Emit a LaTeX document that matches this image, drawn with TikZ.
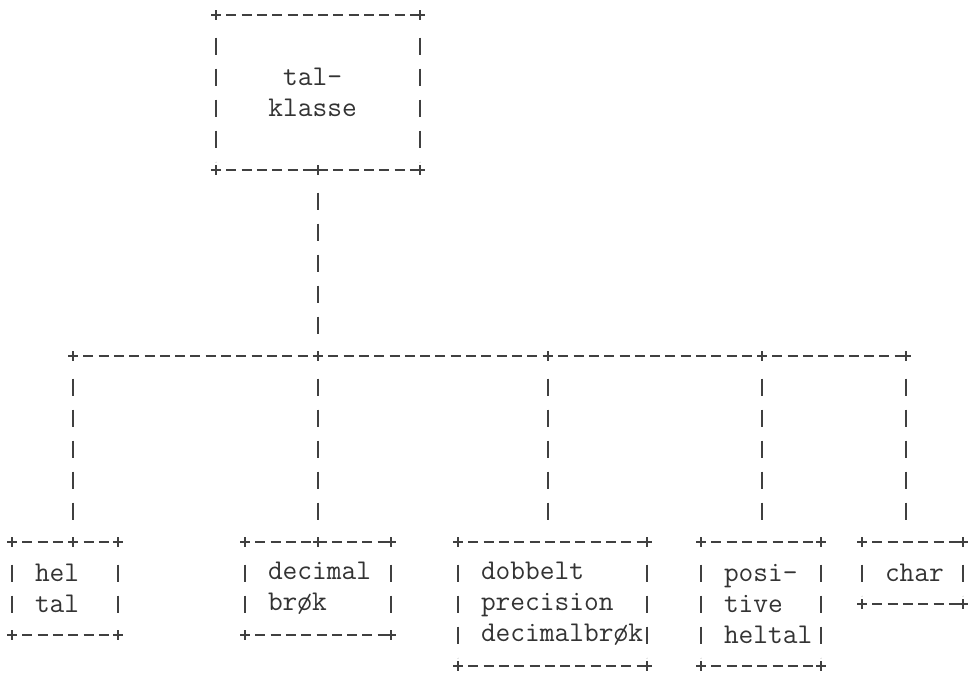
\documentclass[tikz,border=0pt]{standalone}
\usepackage{fontspec}
\usetikzlibrary{positioning}
\tikzset{
  asciifont/.style={font=\ttfamily\fontsize{14.3}{15.5}\selectfont, text=black!80,
    execute at begin node={\hyphenpenalty=10000\relax}},
  hline/.style={draw=black!75, line width=0.55pt, dash pattern=on 5pt off 2.65pt, dash phase=5pt,
    shorten <=2.5pt, shorten >=2.5pt},
  vline/.style={draw=black!75, line width=0.55pt, dash pattern=on 8.5pt off 7pt, dash phase=8.5pt,
    shorten <=4.25pt, shorten >=4.25pt},
  crossmark/.style={draw=black!75, line width=0.55pt},
  typebox/.style={asciifont, anchor=north west, align=left, inner ysep=0pt, inner xsep=11.5pt,
    outer sep=0pt,
    append after command={
      (\tikzlastnode.north west) edge[hline] (\tikzlastnode.north east)
      (\tikzlastnode.south west) edge[hline] (\tikzlastnode.south east)
      (\tikzlastnode.north west) edge[vline] (\tikzlastnode.south west)
      (\tikzlastnode.north east) edge[vline] (\tikzlastnode.south east)}},
}

\begin{document}
\begin{tikzpicture}[x=0.5pt, y=-0.5pt]
  \useasboundingbox (0,0) rectangle (970,675);

  % root
  \node[typebox, minimum width=102pt, minimum height=77.5pt, text width=79pt] (top) at (216,15)
    {\phantom{ttt}tal-\\\phantom{tt}klasse};

  % bus
  \coordinate (j1) at (73,356);
  \coordinate (j2) at (318,356);
  \coordinate (j3) at (548,356);
  \coordinate (j4) at (762,356);
  \coordinate (j5) at (906,356);

  % the five kinds
  \node[typebox, minimum width=53pt, minimum height=46.5pt, text width=30pt] (hel) at (12,542)
    {hel\\tal};
  \node[typebox, minimum width=73pt, minimum height=46.5pt, text width=50pt] (dec) at (245,542)
    {decimal\\brøk};
  \node[typebox, minimum width=94.5pt, minimum height=62pt, text width=71.5pt] (dob) at (458,542)
    {dobbelt\\precision\\decimalbrøk};
  \node[typebox, minimum width=60pt, minimum height=62pt, text width=37pt] (pos) at (701,542)
    {posi-\\tive\\heltal};
  \node[typebox, minimum width=50.5pt, minimum height=31pt, text width=27.5pt] (chr) at (862,542)
    {char};

  \coordinate (t1) at (j1 |- hel.north);
  \coordinate (t2) at (j2 |- dec.north);

  \draw[vline] (top.south) -- (j2);
  \draw[hline] (j1) -- (j2);
  \draw[hline] (j2) -- (j3);
  \draw[hline] (j3) -- (j4);
  \draw[hline] (j4) -- (j5);
  \draw[vline] (j1) -- (t1);
  \draw[vline] (j2) -- (t2);
  \draw[vline] (j3) -- (j3 |- dob.north);
  \draw[vline] (j4) -- (j4 |- pos.north);
  \draw[vline] (j5) -- (j5 |- chr.north);

  % plus marks
  \foreach \n in {top,hel,dec,dob,pos,chr}
    \foreach \a in {north west,north east,south west,south east}
      \draw[crossmark] (\n.\a) +(-5,0) -- +(5,0) +(0,-5) -- +(0,5);
  \foreach \c in {top.south,j1,j2,j3,j4,j5,t1,t2}
    \draw[crossmark] (\c) +(-5,0) -- +(5,0) +(0,-5) -- +(0,5);
\end{tikzpicture}
\end{document}
